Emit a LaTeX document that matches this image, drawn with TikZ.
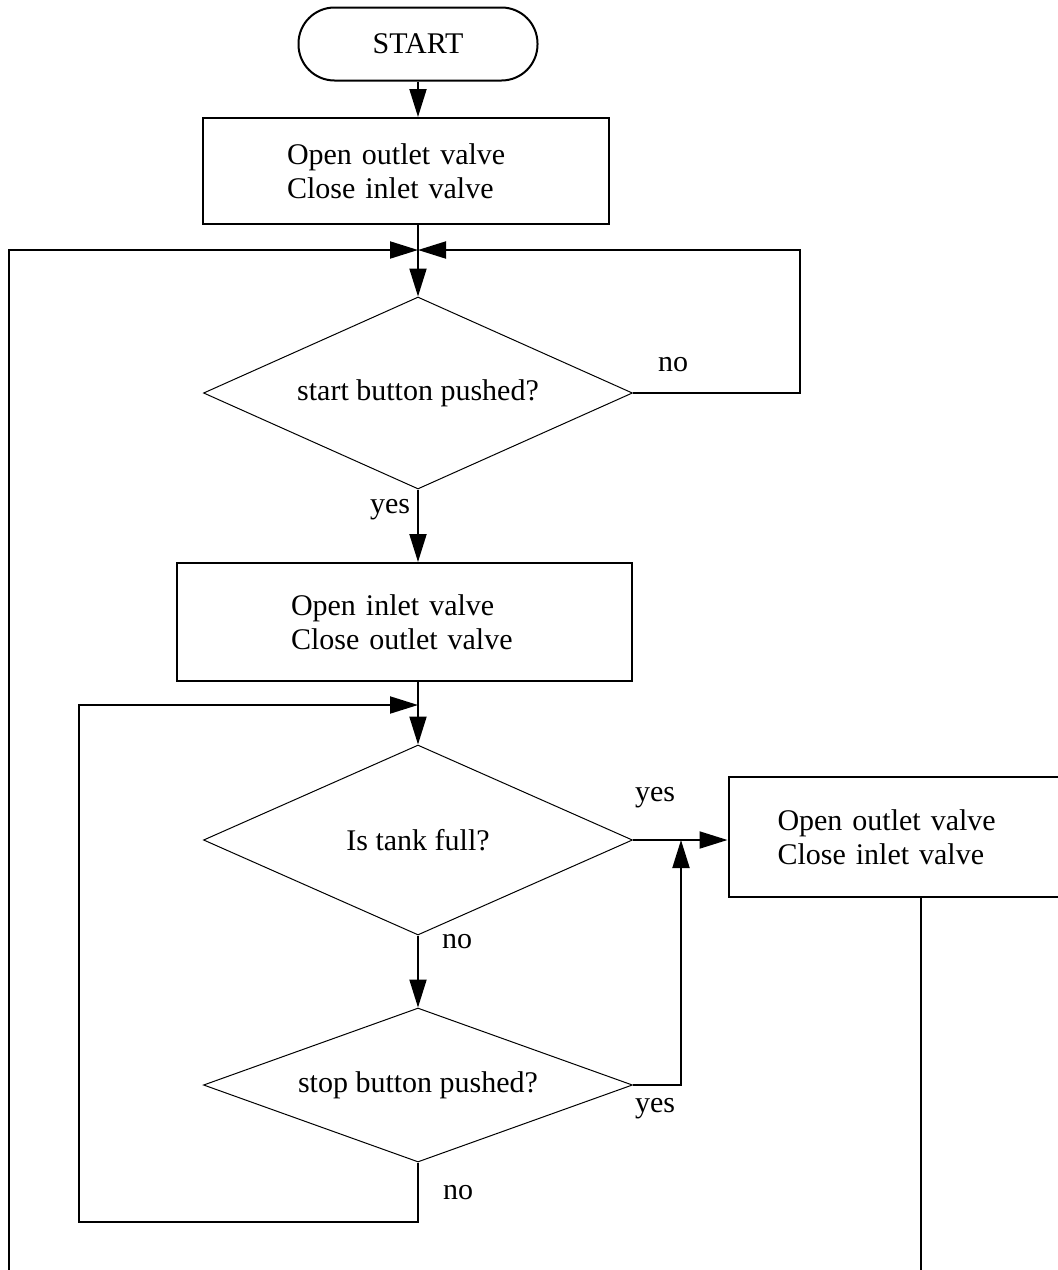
\documentclass[tikz,border=0pt]{standalone}
\usepackage{fontspec}
\setmainfont{Liberation Serif}
\usetikzlibrary{arrows.meta, shapes.geometric}

\begin{document}
\begin{tikzpicture}[x=0.5pt, y=-0.5pt, font=\fontsize{15}{17}\selectfont,
  conn/.style={line width=1pt},
  arr/.style={line width=1pt, -{Triangle[length=14pt, width=8.5pt]}},
  box/.style={draw, line width=1pt, align=left, inner ysep=0pt, minimum height=#1},
  decision/.style={draw, diamond, line width=0.5pt, aspect=2, inner sep=0pt, minimum width=214.5pt, minimum height=#1},
  lbl/.style={inner sep=0pt}]
\useasboundingbox (0,0) rectangle (1058,1270);
\clip (0,0) rectangle (1058,1270);

\node[draw, line width=1pt, rounded corners=18pt, minimum width=119.5pt, minimum height=36.5pt] (start) at (418,44) {START};
\node[box=53pt, text width=119pt, inner xsep=42pt] (open1) at (406,171) {Open outlet valve\\Close inlet valve};
\node[decision=96pt] (push1) at (418,393) {start button pushed?};
\node[box=59pt, text width=113.5pt, inner xsep=57pt] (open2) at (404.5,622) {Open inlet valve\\Close outlet valve};
\node[decision=95pt] (full) at (418,840) {Is tank full?};
\node[decision=77pt] (push2) at (418,1085) {stop button pushed?};
\node[box=60pt, text width=143.5pt, inner xsep=24.5pt] (open3) at (921,837) {Open outlet valve\\Close inlet valve};

\coordinate (j1) at (418,250);
\coordinate (r1) at (800,250);
\coordinate (j2) at (418,705);
\coordinate (l1) at (79,1222);
\coordinate (k1) at (681,840);
\coordinate (bl) at (9,1280);

\draw[arr] (start) -- (start.south |- open1.north);
\draw[arr] (open1.south -| push1) -- (push1.north);
\draw[arr] (bl) |- (j1);
\draw[arr] (push1.east) -| (r1) -- (j1);
\draw[arr] (push1.south) -- (push1.south |- open2.north);
\draw[arr] (open2.south -| full) -- (full.north);
\draw[arr] (full.east) -- (full.east -| open3.west);
\draw[arr] (full.south) -- (push2.north);
\draw[arr] (push2.east) -| (k1);
\draw[arr] (push2.south) |- (l1) |- (j2);
\draw[conn] (open3.south) -- (open3.south |- bl);

\node[lbl] (no1) at (673,365) {no};
\node[lbl] (yes1) at (390,510) {yes};
\node[lbl] (yes2) at (655,798) {yes};
\node[lbl] (no2) at (457,942) {no};
\node[lbl] (yes3) at (655,1109) {yes};
\node[lbl] (no3) at (458,1193) {no};
\end{tikzpicture}
\end{document}
